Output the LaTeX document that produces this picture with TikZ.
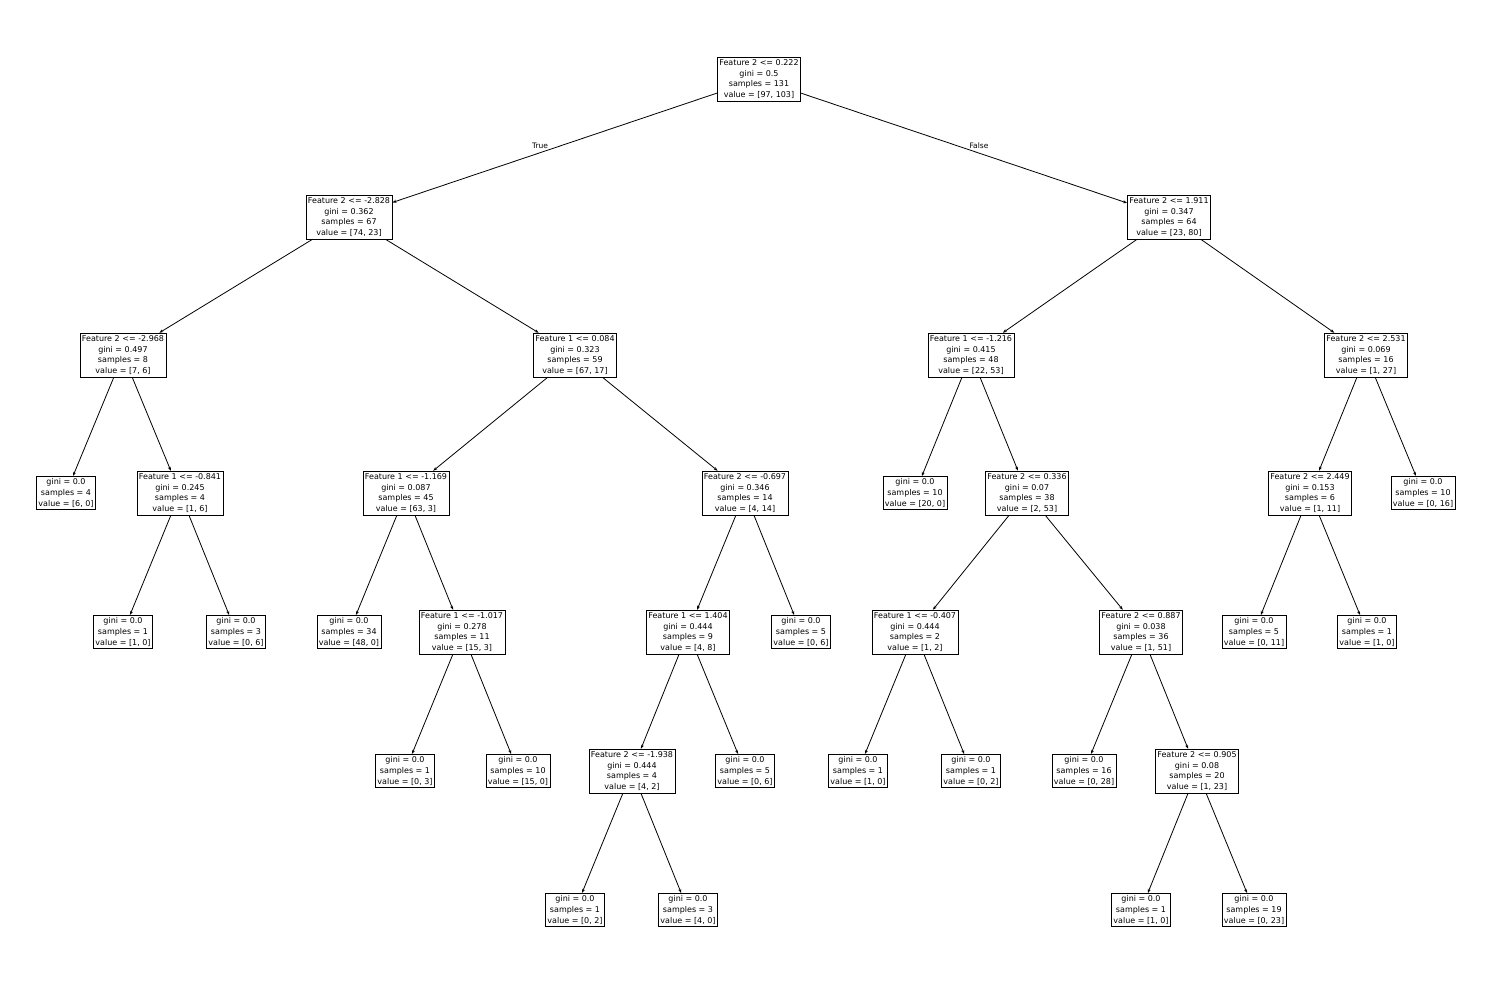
\documentclass[tikz,border=0pt]{standalone}
\usepackage{fontspec}
\setmainfont{DejaVu Sans}
\usetikzlibrary{arrows.meta}
\begin{document}
\begin{tikzpicture}[x=1pt,y=-1pt,
  t/.style={draw,line width=0.7pt,fill=white,align=center,inner xsep=2pt,inner ysep=2.5pt,font=\fontsize{8}{10.6}\selectfont},
  e/.style={line width=0.8pt,-{Stealth[length=4pt,width=3pt]}},
  lab/.style={font=\fontsize{7.5}{8}\selectfont}]
\useasboundingbox (0,0) rectangle (1489,989);
\node[t] (r) at (759,79) {Feature 2 <= 0.222\\gini = 0.5\\samples = 131\\value = [97, 103]};
\node[t] (a) at (349,217) {Feature 2 <= -2.828\\gini = 0.362\\samples = 67\\value = [74, 23]};
\node[t] (b) at (1169,217) {Feature 2 <= 1.911\\gini = 0.347\\samples = 64\\value = [23, 80]};
\node[t] (aa) at (123,355) {Feature 2 <= -2.968\\gini = 0.497\\samples = 8\\value = [7, 6]};
\node[t] (ab) at (575,355) {Feature 1 <= 0.084\\gini = 0.323\\samples = 59\\value = [67, 17]};
\node[t] (ba) at (971,355) {Feature 1 <= -1.216\\gini = 0.415\\samples = 48\\value = [22, 53]};
\node[t] (bb) at (1366,355) {Feature 2 <= 2.531\\gini = 0.069\\samples = 16\\value = [1, 27]};
\node[t] (aaa) at (66,493) {gini = 0.0\\samples = 4\\value = [6, 0]};
\node[t] (aab) at (180,493) {Feature 1 <= -0.841\\gini = 0.245\\samples = 4\\value = [1, 6]};
\node[t] (aba) at (406,493) {Feature 1 <= -1.169\\gini = 0.087\\samples = 45\\value = [63, 3]};
\node[t] (abb) at (745,493) {Feature 2 <= -0.697\\gini = 0.346\\samples = 14\\value = [4, 14]};
\node[t] (baa) at (915,493) {gini = 0.0\\samples = 10\\value = [20, 0]};
\node[t] (bab) at (1027,493) {Feature 2 <= 0.336\\gini = 0.07\\samples = 38\\value = [2, 53]};
\node[t] (bba) at (1310,493) {Feature 2 <= 2.449\\gini = 0.153\\samples = 6\\value = [1, 11]};
\node[t] (bbb) at (1423,493) {gini = 0.0\\samples = 10\\value = [0, 16]};
\node[t] (aaba) at (123,632) {gini = 0.0\\samples = 1\\value = [1, 0]};
\node[t] (aabb) at (236,632) {gini = 0.0\\samples = 3\\value = [0, 6]};
\node[t] (abaa) at (349,632) {gini = 0.0\\samples = 34\\value = [48, 0]};
\node[t] (abab) at (462,632) {Feature 1 <= -1.017\\gini = 0.278\\samples = 11\\value = [15, 3]};
\node[t] (abba) at (688,632) {Feature 1 <= 1.404\\gini = 0.444\\samples = 9\\value = [4, 8]};
\node[t] (abbb) at (801,632) {gini = 0.0\\samples = 5\\value = [0, 6]};
\node[t] (baba) at (915,632) {Feature 1 <= -0.407\\gini = 0.444\\samples = 2\\value = [1, 2]};
\node[t] (babb) at (1141,632) {Feature 2 <= 0.887\\gini = 0.038\\samples = 36\\value = [1, 51]};
\node[t] (bbaa) at (1254,632) {gini = 0.0\\samples = 5\\value = [0, 11]};
\node[t] (bbab) at (1367,632) {gini = 0.0\\samples = 1\\value = [1, 0]};
\node[t] (ababa) at (405,771) {gini = 0.0\\samples = 1\\value = [0, 3]};
\node[t] (ababb) at (518,771) {gini = 0.0\\samples = 10\\value = [15, 0]};
\node[t] (abbaa) at (632,771) {Feature 2 <= -1.938\\gini = 0.444\\samples = 4\\value = [4, 2]};
\node[t] (abbab) at (745,771) {gini = 0.0\\samples = 5\\value = [0, 6]};
\node[t] (babaa) at (858,771) {gini = 0.0\\samples = 1\\value = [1, 0]};
\node[t] (babab) at (971,771) {gini = 0.0\\samples = 1\\value = [0, 2]};
\node[t] (babba) at (1084,771) {gini = 0.0\\samples = 16\\value = [0, 28]};
\node[t] (babbb) at (1197,771) {Feature 2 <= 0.905\\gini = 0.08\\samples = 20\\value = [1, 23]};
\node[t] (abbaaa) at (575,910) {gini = 0.0\\samples = 1\\value = [0, 2]};
\node[t] (abbaab) at (688,910) {gini = 0.0\\samples = 3\\value = [4, 0]};
\node[t] (babbba) at (1141,910) {gini = 0.0\\samples = 1\\value = [1, 0]};
\node[t] (babbbb) at (1254,910) {gini = 0.0\\samples = 19\\value = [0, 23]};
\foreach \p/\c in {r/a,r/b,a/aa,a/ab,b/ba,b/bb,aa/aaa,aa/aab,ab/aba,ab/abb,ba/baa,ba/bab,bb/bba,bb/bbb,
  aab/aaba,aab/aabb,aba/abaa,aba/abab,abb/abba,abb/abbb,bab/baba,bab/babb,bba/bbaa,bba/bbab,
  abab/ababa,abab/ababb,abba/abbaa,abba/abbab,baba/babaa,baba/babab,babb/babba,babb/babbb,
  abbaa/abbaaa,abbaa/abbaab,babbb/babbba,babbb/babbbb}
  \draw[e] (\p) -- (\c);
\node[lab] (tl) at (540,146) {True};
\node[lab] (fl) at (979,146) {False};
\end{tikzpicture}
\end{document}
